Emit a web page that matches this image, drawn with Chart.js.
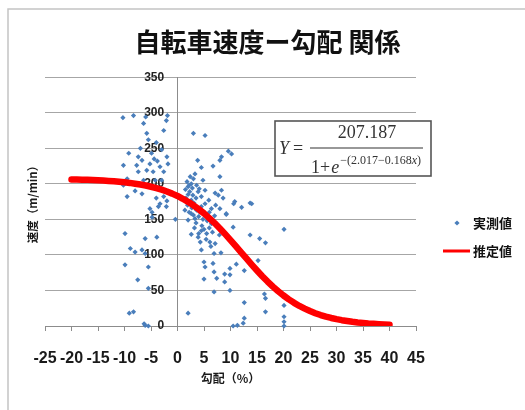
<!DOCTYPE html>
<html>
<head>
<meta charset="utf-8">
<script src="https://cdn.jsdelivr.net/npm/chart.js@4/dist/chart.umd.min.js"></script>
<style>
  html, body { margin: 0; padding: 0; background: #fff; }
  #wrap { width: 525px; height: 410px; position: relative; }
</style>
</head>
<body>
<div id="wrap"><canvas id="c" width="525" height="410"></canvas></div>
<script>
// Axis ticks
const xTicks = [-25, -20, -15, -10, -5, 0, 5, 10, 15, 20, 25, 30, 35, 40, 45];
const yTicks = [0, 50, 100, 150, 200, 250, 300, 350];

// Measured speeds [gradient %, speed m/min] — downhill runs
const measuredDownhill = [
  [-10.3, 293], [-8.3, 296], [-6.4, 285], [-6.0, 294], [-2.1, 289], [-1.9, 296],
  [-5.8, 271], [-2.6, 275], [-5.5, 262], [-9.2, 243], [-7.4, 238], [-6.7, 233],
  [-4.4, 235], [-3.8, 232], [-2.0, 238], [-10.2, 226], [-7.7, 226], [-5.2, 228],
  [-3.3, 224], [-7.4, 217], [-5.8, 219], [-4.6, 217], [-2.6, 217], [-9.5, 207],
  [-6.4, 205], [-4.2, 205], [-10.2, 198], [-3.3, 193], [-2.3, 191], [-9.5, 182],
  [-6.7, 186], [-2.6, 182], [-3.3, 172], [-5.2, 165], [-2.1, 168], [-4.8, 160],
  [-3.6, 168], [-2.0, 176], [-4.8, 153], [-0.4, 150], [-9.9, 130], [-6.1, 123],
  [-3.9, 125], [-8.9, 109], [-8.0, 104], [-6.7, 107], [-6.1, 102], [-9.9, 86],
  [-5.5, 83], [-7.5, 65], [-5.5, 53], [-9.1, 18], [-8.3, 20], [-6.1, 1],
  [-5.5, 0], [-6.3, 3], [-4.0, 258], [-7.0, 250], [-3.0, 248], [-4.9, 243],
  [-1.8, 228], [-3.0, 205], [-8.0, 190], [-4.0, 180]
];

// Measured speeds — uphill runs
const measuredUphill = [
  [3.0, 271], [5.2, 268], [9.6, 246], [10.2, 242], [8.3, 238], [8.0, 233], [3.8, 233],
  [6.7, 225], [4.5, 223], [8.0, 210], [3.3, 214], [3.0, 207], [2.6, 200], [2.0, 196],
  [4.8, 205], [2.3, 189], [3.9, 189], [5.2, 191], [7.1, 187], [8.3, 191], [4.5, 182],
  [5.9, 177], [7.7, 184], [10.8, 175], [13.7, 173], [12.1, 167], [8.0, 165], [9.2, 157],
  [2.6, 177], [3.3, 170], [5.2, 172], [6.4, 165], [2.6, 158], [3.3, 151], [2.0, 149],
  [6.4, 144], [7.4, 142], [9.2, 158], [10.5, 139], [13.7, 128], [15.5, 123], [16.6, 117],
  [20.1, 136], [2.6, 129], [4.5, 134], [5.5, 130], [3.9, 125], [6.1, 118], [7.1, 116],
  [4.5, 107], [6.9, 102], [8.2, 103], [5.0, 90], [6.7, 88], [5.2, 83], [11.1, 87],
  [9.9, 81], [6.9, 76], [8.9, 73], [12.6, 78], [15.2, 92], [5.0, 66], [7.4, 67],
  [9.9, 72], [8.9, 62], [6.9, 48], [9.9, 50], [16.4, 45], [16.6, 39], [12.6, 33],
  [2.0, 18], [16.6, 20], [20.1, 29], [12.6, 11], [12.4, 4], [11.3, 1], [20.1, 13],
  [20.1, 6], [20.1, 0], [10.6, 172], [14.0, 172], [10.5, 0]
];

// Measured speeds — dense group on gentle uphill
const measuredGentle = [
  [1.8, 203], [2.2, 198], [2.8, 194], [1.5, 192], [2.0, 185], [2.9, 184], [3.5, 180],
  [1.6, 180], [2.4, 175], [3.1, 173], [1.9, 170], [2.7, 166], [3.6, 163], [4.2, 160],
  [1.4, 163], [2.2, 160], [3.0, 156], [4.0, 154], [4.8, 150], [5.6, 148], [3.5, 145],
  [4.6, 141], [5.0, 136], [6.0, 138], [3.2, 138], [4.0, 130], [6.6, 132], [7.9, 128],
  [5.4, 122], [4.3, 118], [6.3, 112], [5.8, 150], [7.0, 155], [4.5, 168], [6.0, 160],
  [7.2, 170], [8.6, 180], [2.4, 210], [3.6, 198], [4.1, 193]
];

// Estimated speed curve (推定値)
const estimateX = [
  -20, -19, -18, -17, -16, -15, -14, -13, -12, -11, -10, -9, -8, -7, -6, -5, -4, -3, -2, -1,
  0, 1, 2, 3, 4, 5, 6, 7, 8, 9, 10, 11, 12, 13, 14, 15, 16, 17, 18, 19,
  20, 21, 22, 23, 24, 25, 26, 27, 28, 29, 30, 31, 32, 33, 34, 35, 36, 37, 38, 39, 40
];
const estimateY = [
  206.2, 206.1, 205.9, 205.6, 205.3, 205.0, 204.6, 204.1, 203.6, 202.9, 202.2, 201.3, 200.2, 199.0, 197.6, 195.9, 194.0, 191.8, 189.2, 186.2,
  182.9, 179.0, 174.7, 169.8, 164.4, 158.4, 151.8, 144.8, 137.2, 129.2, 120.9, 112.3, 103.6, 95.0, 86.4, 78.1, 70.1, 62.5, 55.4, 48.9,
  42.9, 37.5, 32.6, 28.2, 24.4, 21.0, 18.0, 15.4, 13.2, 11.3, 9.6, 8.2, 7.0, 5.9, 5.0, 4.3, 3.6, 3.1, 2.6, 2.2, 1.9
];

const titleText = '自転車速度ー勾配 関係';
const xTitle = '勾配（%）';
const yTitle = '速度（m/min）';
const seriesNames = ['実測値', '推定値'];

const BLUE = '#4a7ebb';
const RED = '#ff0000';
const GRID = '#a6a6a6';

const toPoints = arr => arr.map(([x, y]) => ({ x, y }));
const measured = [].concat(toPoints(measuredDownhill), toPoints(measuredUphill), toPoints(measuredGentle));
const estimate = estimateX.map((x, i) => ({ x, y: estimateY[i] }));

// Outer frame of the chart sheet
const framePlugin = {
  id: 'frame',
  beforeDraw(chart) {
    const ctx = chart.ctx;
    ctx.save();
    ctx.fillStyle = '#fff';
    ctx.fillRect(0, 0, chart.width, chart.height);
    ctx.strokeStyle = '#c4c4c4';
    ctx.lineWidth = 1.5;
    ctx.beginPath();
    ctx.moveTo(8, chart.height);
    ctx.lineTo(8, 9);
    ctx.lineTo(chart.width, 9);
    ctx.stroke();
    ctx.restore();
  }
};

// Regression formula box
const formulaPlugin = {
  id: 'formula',
  afterDraw(chart) {
    const ctx = chart.ctx;
    ctx.save();
    const bx = 275, by = 121, bw = 156, bh = 55;
    ctx.fillStyle = '#fff';
    ctx.fillRect(bx, by, bw, bh);
    ctx.strokeStyle = '#555';
    ctx.lineWidth = 1.6;
    ctx.strokeRect(bx, by, bw, bh);

    const serif = '"Liberation Serif", "DejaVu Serif", serif';
    ctx.fillStyle = '#333';
    ctx.textBaseline = 'alphabetic';
    ctx.font = 'italic 18px ' + serif;
    ctx.textAlign = 'left';
    ctx.fillText('Y', 279, 154);
    ctx.font = '18px ' + serif;
    ctx.fillText('=', 293, 154);

    ctx.textAlign = 'center';
    ctx.fillText('207.187', 367, 138);

    ctx.strokeStyle = '#333';
    ctx.lineWidth = 1.2;
    ctx.beginPath();
    ctx.moveTo(310, 148);
    ctx.lineTo(423, 148);
    ctx.stroke();

    ctx.textAlign = 'left';
    ctx.fillText('1+', 311, 173);
    const px = 311 + ctx.measureText('1+').width + 1;
    ctx.font = 'italic 18px ' + serif;
    ctx.fillText('e', px, 173);
    const ex = px + ctx.measureText('e').width + 1;

    // exponent −(2.017−0.168x)
    const head = '\u2212(2.017\u22120.168';
    ctx.font = '12px ' + serif;
    ctx.fillText(head, ex, 164);
    const hx = ex + ctx.measureText(head).width;
    ctx.font = 'italic 12px ' + serif;
    ctx.fillText('x', hx, 164);
    const xw = ctx.measureText('x').width;
    ctx.font = '12px ' + serif;
    ctx.fillText(')', hx + xw, 164);
    ctx.restore();
  }
};

// Legend on the right
const legendPlugin = {
  id: 'sideLegend',
  afterDraw(chart) {
    const ctx = chart.ctx;
    ctx.save();
    ctx.fillStyle = BLUE;
    ctx.beginPath();
    const mx = 457, my = 223, r = 2.6;
    ctx.moveTo(mx, my - r);
    ctx.lineTo(mx + r, my);
    ctx.lineTo(mx, my + r);
    ctx.lineTo(mx - r, my);
    ctx.closePath();
    ctx.fill();

    ctx.strokeStyle = RED;
    ctx.lineWidth = 3;
    ctx.beginPath();
    ctx.moveTo(443, 251);
    ctx.lineTo(470, 251);
    ctx.stroke();

    ctx.fillStyle = '#111';
    ctx.font = 'bold 13px "Noto Sans CJK JP", sans-serif';
    ctx.textAlign = 'left';
    ctx.textBaseline = 'middle';
    ctx.fillText(seriesNames[0], 473, 223);
    ctx.fillText(seriesNames[1], 473, 251);
    ctx.restore();
  }
};

new Chart(document.getElementById('c'), {
  type: 'scatter',
  data: {
    datasets: [
      {
        label: seriesNames[0],
        data: measured,
        pointStyle: 'rectRot',
        pointRadius: 2.6,
        pointHoverRadius: 2.6,
        backgroundColor: BLUE,
        borderColor: BLUE,
        borderWidth: 0,
        clip: 5,
        order: 1
      },
      {
        label: seriesNames[1],
        type: 'line',
        data: estimate,
        showLine: true,
        borderColor: RED,
        backgroundColor: RED,
        borderWidth: 6.5,
        borderCapStyle: 'round',
        borderJoinStyle: 'round',
        pointRadius: 0,
        tension: 0,
        fill: false,
        order: 0
      }
    ]
  },
  options: {
    responsive: false,
    animation: false,
    devicePixelRatio: 1,
    layout: { padding: { left: 20, right: 10, top: 0, bottom: 0 } },
    plugins: {
      legend: { display: false },
      tooltip: { enabled: false },
      title: {
        display: true,
        text: titleText,
        color: '#111',
        font: { family: '"Noto Sans CJK JP", sans-serif', size: 26, weight: 'bold' },
        padding: { top: 27, bottom: 19 }
      }
    },
    scales: {
      x: {
        type: 'linear',
        position: 'bottom',
        min: -25,
        max: 45,
        afterBuildTicks: s => { s.ticks = xTicks.map(v => ({ value: v })); },
        afterFit: s => { s.height = 84; },
        grid: { drawOnChartArea: false, drawTicks: true, tickLength: 5, color: '#8c8c8c' },
        border: { display: true, color: '#8c8c8c', width: 1 },
        ticks: {
          autoSkip: false,
          maxRotation: 0,
          padding: 18,
          color: '#1a1a1a',
          font: { family: '"Liberation Sans", Arial, sans-serif', size: 16, weight: 'bold' }
        },
        title: {
          display: true,
          text: xTitle,
          color: '#1a1a1a',
          font: { family: '"Noto Sans CJK JP", sans-serif', size: 12, weight: 'bold' },
          padding: { top: 4, bottom: 24 }
        }
      },
      y: {
        type: 'linear',
        position: { x: 0 },
        min: 0,
        max: 350,
        afterBuildTicks: s => { s.ticks = yTicks.map(v => ({ value: v })); },
        grid: { color: GRID, lineWidth: 1, drawTicks: false },
        border: { display: true, color: '#8c8c8c', width: 1 },
        ticks: {
          // labels sit a little left of the crossing axis line
          callback: v => v + '    ',
          color: '#222',
          font: { family: '"Liberation Sans", Arial, sans-serif', size: 12, weight: 'bold' }
        }
      },
      yTitle: {
        axis: 'y',
        type: 'linear',
        position: 'left',
        afterFit: s => { s.width = 25; },
        grid: { display: false, drawTicks: false },
        border: { display: false },
        ticks: { display: false },
        title: {
          display: true,
          text: yTitle,
          color: '#1a1a1a',
          font: { family: '"Noto Sans CJK JP", sans-serif', size: 11.5, weight: 'bold' },
          padding: { top: 6, bottom: 4 }
        }
      },
      yRight: {
        axis: 'y',
        type: 'linear',
        position: 'right',
        afterFit: s => { s.width = 99; },
        grid: { display: false, drawTicks: false },
        border: { display: false },
        ticks: { display: false }
      }
    }
  },
  plugins: [framePlugin, formulaPlugin, legendPlugin]
});
</script>
</body>
</html>
